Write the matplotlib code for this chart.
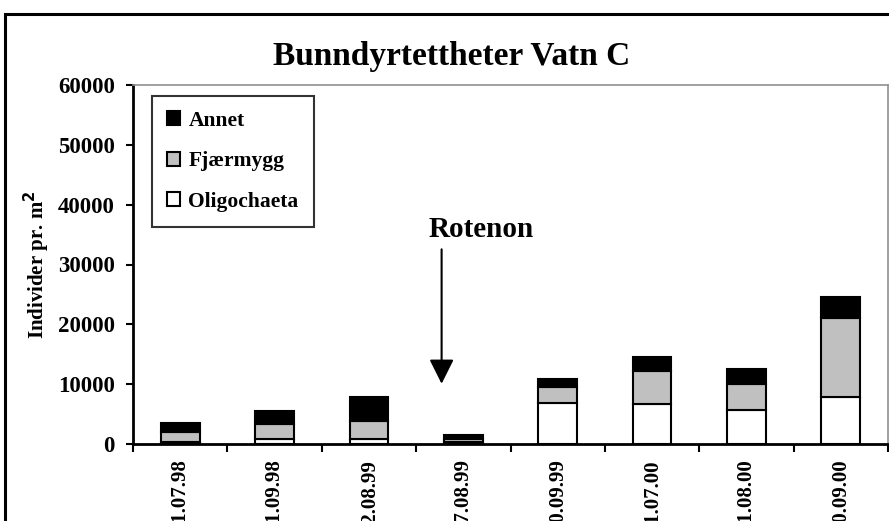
import matplotlib
matplotlib.use("Agg")
import matplotlib.pyplot as plt
from matplotlib.patches import Rectangle
import numpy as np

dates = ["01.07.98", "21.09.98", "12.08.99", "27.08.99",
         "20.09.99", "11.07.00", "31.08.00", "20.09.00"]
oligochaeta = [400, 790, 790, 350, 6800, 6700, 5740, 7850]
fjaermygg_top = [1950, 3290, 3890, 900, 9580, 12250, 9980, 21000]
total = [3560, 5520, 7900, 1500, 10860, 14490, 12540, 24550]
fjaermygg = [f - o for f, o in zip(fjaermygg_top, oligochaeta)]
annet = [t - f for t, f in zip(total, fjaermygg_top)]
yticks = [0, 10000, 20000, 30000, 40000, 50000, 60000]

plt.rcParams['font.family'] = ['Liberation Serif', 'DejaVu Serif']
plt.rcParams['font.weight'] = 'bold'

fig = plt.figure(figsize=(8.89, 5.21), dpi=100)
ax = fig.add_axes([133/889, 1-444/521, (888-133)/889, (444-85)/521])

x = np.arange(len(dates))
w = 0.41
ax.bar(x, oligochaeta, w, color='white', edgecolor='black', linewidth=1.5, label='Oligochaeta', zorder=3)
ax.bar(x, fjaermygg, w, bottom=oligochaeta, color='#C0C0C0', edgecolor='black', linewidth=1.5, label='Fjærmygg', zorder=3)
ax.bar(x, annet, w, bottom=fjaermygg_top, color='black', edgecolor='black', linewidth=1.5, label='Annet', zorder=3)

ax.set_xlim(-0.5, len(dates) - 0.5)
ax.set_ylim(0, 60000)
ax.set_yticks(yticks)
ax.set_yticklabels([str(v) for v in yticks], fontsize=16.5, fontweight='bold')
ax.set_xticks(x)
ax.set_xticklabels(dates, rotation=90, fontsize=15, fontweight='bold', va='top')
ax.set_xticks(np.arange(-0.5, len(dates)), minor=True)
ax.tick_params(axis='x', which='major', length=0, pad=11)
ax.tick_params(axis='x', which='minor', length=6, width=1.5, direction='out')
ax.tick_params(axis='y', length=5, width=1.5, direction='out', pad=8)

for s in ['left', 'bottom']:
    ax.spines[s].set_color('black')
    ax.spines[s].set_linewidth(2)
for s in ['top', 'right']:
    ax.spines[s].set_color('#909090')
    ax.spines[s].set_linewidth(1.2)

ax.set_ylabel('Individer pr. m$^\\mathbf{2}$', fontsize=15, fontweight='bold', labelpad=4)

fig.text(452/889, 1-56/521, 'Bunndyrtettheter Vatn C', ha='center', va='center',
         fontsize=24, fontweight='bold')

handles, labels = ax.get_legend_handles_labels()
leg = ax.legend(handles[::-1], labels[::-1], loc='upper left', bbox_to_anchor=(0.025, 0.97),
                frameon=True, fancybox=False, edgecolor='black',
                handlelength=0.6, handleheight=0.6, handletextpad=0.4,
                labelspacing=0.95, borderpad=0.7, borderaxespad=0.0,
                prop={'weight': 'bold', 'size': 15.5})
leg.get_frame().set_linewidth(1.5)

ax.annotate('', xy=(2.77, 9600), xytext=(2.77, 33000),
            arrowprops=dict(arrowstyle='-|>,head_length=1.0,head_width=0.5', color='black',
                            lw=1.5, mutation_scale=15))
ax.text(3.19, 35900, 'Rotenon', ha='center', va='center', fontsize=21, fontweight='bold')

fig.patches.append(Rectangle((5/889, -0.1), 1.2, 1-14/521 + 0.1, transform=fig.transFigure,
                             fill=False, edgecolor='black', linewidth=2.2))

fig.savefig('out.png', dpi=100)
